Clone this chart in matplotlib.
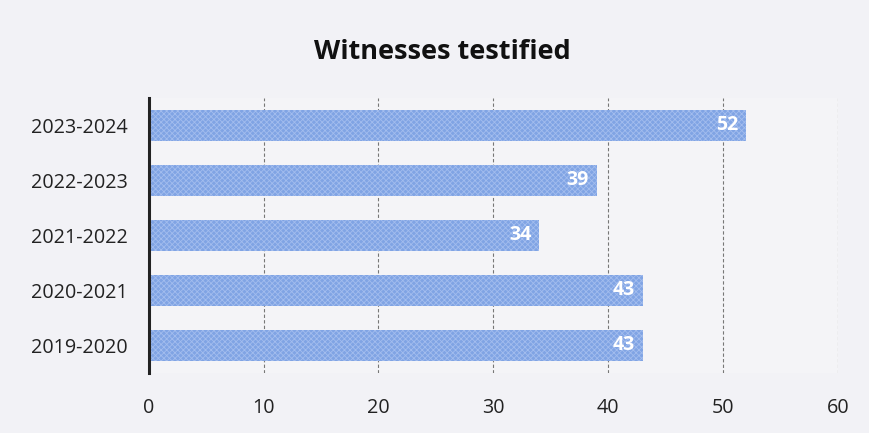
import matplotlib
matplotlib.use("Agg")
import matplotlib.pyplot as plt

categories = ["2019-2020", "2020-2021", "2021-2022", "2022-2023", "2023-2024"]
values = [43, 43, 34, 39, 52]
xticks = [0, 10, 20, 30, 40, 50, 60]
title = "Witnesses testified"

plt.rcParams['font.family'] = ['Open Sans', 'DejaVu Sans']
plt.rcParams['hatch.linewidth'] = 0.6

fig = plt.figure(figsize=(8.7, 4.33), dpi=100, facecolor='#f2f2f6')
ax = fig.add_axes([0.171, 0.139, 0.792, 0.635])
ax.set_facecolor('#f4f4f7')

bars = ax.barh(range(len(categories)), values, height=0.57, color='#80a4e4',
               hatch='xxxxxx', edgecolor='#a3bdee', linewidth=0, zorder=3)
for i, v in enumerate(values):
    ax.text(v - 0.7, i, str(v), ha='right', va='center', color='white',
            fontsize=14, fontweight='bold', zorder=4)

ax.set_xlim(0, 60)
ax.set_ylim(-0.5, len(categories) - 0.5)
ax.set_xticks(xticks)
ax.set_yticks(range(len(categories)))
ax.set_yticklabels(categories)
ax.tick_params(axis='both', length=0, labelsize=14.2, colors='#222222')
ax.tick_params(axis='x', pad=18)
ax.tick_params(axis='y', pad=15)
ax.xaxis.grid(True, linestyle=(0, (3, 2)), color='#777777', linewidth=0.8, zorder=1)
ax.yaxis.grid(False)
for s in ['top', 'right', 'bottom']:
    ax.spines[s].set_visible(False)
ax.spines['left'].set_linewidth(2.2)
ax.spines['left'].set_color('#222222')
ax.spines['left'].set_zorder(5)

fig.text(0.509, 0.88, title, ha='center', va='center', fontsize=19.5,
         fontweight='bold', color='#111111')

fig.savefig('out.png', dpi=100, facecolor=fig.get_facecolor())
